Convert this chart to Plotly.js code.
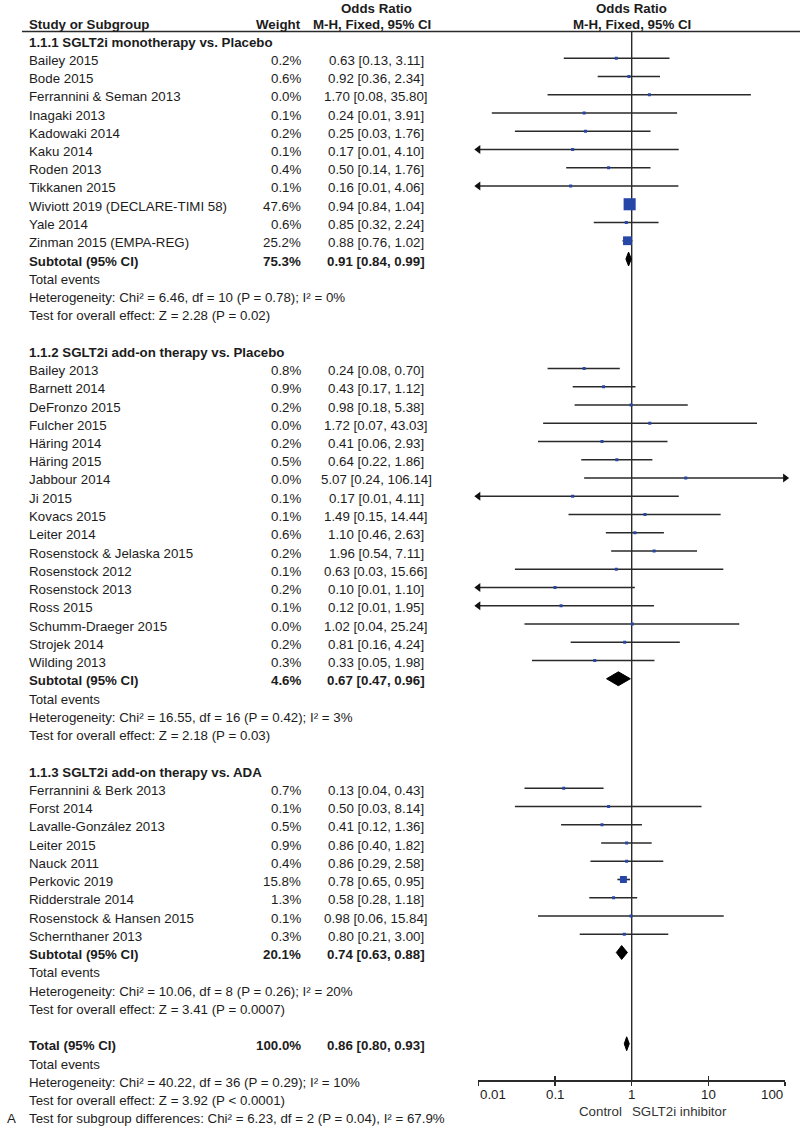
<!DOCTYPE html>
<html>
<head>
<meta charset="utf-8">
<script src="https://cdn.plot.ly/plotly-3.0.1.min.js"></script>
<style>body{margin:0;background:#fff}</style>
</head>
<body>
<div id="chart" style="width:800px;height:1128px"></div>
<script>
// ---- data ----
var subTitles = ["1.1.1 SGLT2i monotherapy vs. Placebo",
                 "1.1.2 SGLT2i add-on therapy vs. Placebo",
                 "1.1.3 SGLT2i add-on therapy vs. ADA"];

var names = ["Bailey 2015","Bode 2015","Ferrannini & Seman 2013","Inagaki 2013","Kadowaki 2014","Kaku 2014","Roden 2013","Tikkanen 2015","Wiviott 2019 (DECLARE-TIMI 58)","Yale 2014","Zinman 2015 (EMPA-REG)",
  "Bailey 2013","Barnett 2014","DeFronzo 2015","Fulcher 2015","Häring 2014","Häring 2015","Jabbour 2014","Ji 2015","Kovacs 2015","Leiter 2014","Rosenstock & Jelaska 2015","Rosenstock 2012","Rosenstock 2013","Ross 2015","Schumm-Draeger 2015","Strojek 2014","Wilding 2013",
  "Ferrannini & Berk 2013","Forst 2014","Lavalle-González 2013","Leiter 2015","Nauck 2011","Perkovic 2019","Ridderstrale 2014","Rosenstock & Hansen 2015","Schernthaner 2013"];
var group = [0,0,0,0,0,0,0,0,0,0,0,
  1,1,1,1,1,1,1,1,1,1,1,1,1,1,1,1,1,
  2,2,2,2,2,2,2,2,2];
var weight = [0.2,0.6,0.0,0.1,0.2,0.1,0.4,0.1,47.6,0.6,25.2,
  0.8,0.9,0.2,0.0,0.2,0.5,0.0,0.1,0.1,0.6,0.2,0.1,0.2,0.1,0.0,0.2,0.3,
  0.7,0.1,0.5,0.9,0.4,15.8,1.3,0.1,0.3];
var orVal = [0.63,0.92,1.70,0.24,0.25,0.17,0.50,0.16,0.94,0.85,0.88,
  0.24,0.43,0.98,1.72,0.41,0.64,5.07,0.17,1.49,1.10,1.96,0.63,0.10,0.12,1.02,0.81,0.33,
  0.13,0.50,0.41,0.86,0.86,0.78,0.58,0.98,0.80];
// lower limits as drawn (the ones shown as 0.01 with an arrow fall below 0.01)
var ciLow = [0.13,0.36,0.08,0.015,0.03,0.007,0.14,0.007,0.84,0.32,0.76,
  0.08,0.17,0.18,0.07,0.06,0.22,0.24,0.007,0.15,0.46,0.54,0.03,0.007,0.007,0.04,0.16,0.05,
  0.04,0.03,0.12,0.40,0.29,0.65,0.28,0.06,0.21];
var ciHigh = [3.11,2.34,35.80,3.91,1.76,4.10,1.76,4.06,1.04,2.24,1.02,
  0.70,1.12,5.38,43.03,2.93,1.86,106.14,4.11,14.44,2.63,7.11,15.66,1.10,1.95,25.24,4.24,1.98,
  0.43,8.14,1.36,1.82,2.58,0.95,1.18,15.84,3.00];
var ciLabels = ["0.63 [0.13, 3.11]","0.92 [0.36, 2.34]","1.70 [0.08, 35.80]","0.24 [0.01, 3.91]","0.25 [0.03, 1.76]","0.17 [0.01, 4.10]","0.50 [0.14, 1.76]","0.16 [0.01, 4.06]","0.94 [0.84, 1.04]","0.85 [0.32, 2.24]","0.88 [0.76, 1.02]",
  "0.24 [0.08, 0.70]","0.43 [0.17, 1.12]","0.98 [0.18, 5.38]","1.72 [0.07, 43.03]","0.41 [0.06, 2.93]","0.64 [0.22, 1.86]","5.07 [0.24, 106.14]","0.17 [0.01, 4.11]","1.49 [0.15, 14.44]","1.10 [0.46, 2.63]","1.96 [0.54, 7.11]","0.63 [0.03, 15.66]","0.10 [0.01, 1.10]","0.12 [0.01, 1.95]","1.02 [0.04, 25.24]","0.81 [0.16, 4.24]","0.33 [0.05, 1.98]",
  "0.13 [0.04, 0.43]","0.50 [0.03, 8.14]","0.41 [0.12, 1.36]","0.86 [0.40, 1.82]","0.86 [0.29, 2.58]","0.78 [0.65, 0.95]","0.58 [0.28, 1.18]","0.98 [0.06, 15.84]","0.80 [0.21, 3.00]"];

var subWeight = [75.3, 4.6, 20.1];
var subOr = [0.91, 0.67, 0.74];
var subLow = [0.84, 0.47, 0.63];
var subHigh = [0.99, 0.96, 0.88];
var subHet = ["Heterogeneity: Chi² = 6.46, df = 10 (P = 0.78); I² = 0%",
              "Heterogeneity: Chi² = 16.55, df = 16 (P = 0.42); I² = 3%",
              "Heterogeneity: Chi² = 10.06, df = 8 (P = 0.26); I² = 20%"];
var subEffect = ["Test for overall effect: Z = 2.28 (P = 0.02)",
                 "Test for overall effect: Z = 2.18 (P = 0.03)",
                 "Test for overall effect: Z = 3.41 (P = 0.0007)"];

var totWeight = 100.0, totOr = 0.86, totLow = 0.80, totHigh = 0.93;
var totHet = "Heterogeneity: Chi² = 40.22, df = 36 (P = 0.29); I² = 10%";
var totEffect = "Test for overall effect: Z = 3.92 (P < 0.0001)";
var subDiff = "Test for subgroup differences: Chi² = 6.23, df = 2 (P = 0.04), I² = 67.9%";

var tickVals = [0.01, 0.1, 1, 10, 100];
var tickText = ["0.01", "0.1", "1", "10", "100"];
var favours = ["Control", "SGLT2i inhibitor"];

// ---- geometry ----
var W = 800, H = 1128;
var ROW0 = 40, ROWH = 18.25, AXIS_PX = 1080, TXT_DY = 2;
var X_NAME = 27, X_WEIGHT = 303, X_CI = 376;
var XMIN = 0.01, XMAX = 100;
var FS = 13.3;
var yTop = -ROW0 / ROWH, yBot = (AXIS_PX - ROW0) / ROWH;

function py(px) { return 1 - px / H; }
function rowPx(r) { return ROW0 + ROWH * r + TXT_DY; }
function fmt(v) { return v.toFixed(2); }

var txtColor = '#1c1c1c';
var annotations = [];
function txt(s, xpx, ypx, anchor, bold) {
  annotations.push({
    text: bold ? '<b>' + s + '</b>' : s,
    xref: 'paper', yref: 'paper', x: xpx / W, y: py(ypx),
    xanchor: anchor, yanchor: 'middle', showarrow: false,
    font: {color: txtColor, size: FS}
  });
}

// headers
txt('Odds Ratio', 376, 9, 'center', true);
txt('Odds Ratio', 631.7, 9, 'center', true);
txt('Study or Subgroup', X_NAME, 24, 'left', true);
txt('Weight', X_WEIGHT, 24, 'right', true);
txt('M-H, Fixed, 95% CI', 372, 24, 'center', true);
txt('M-H, Fixed, 95% CI', 631.7, 24, 'center', true);

// assign rows
var studyRow = [], subRow = [];
var r = 0;
for (var g = 0; g < subTitles.length; g++) {
  txt(subTitles[g], X_NAME, rowPx(r), 'left', true);
  r++;
  for (var i = 0; i < names.length; i++) {
    if (group[i] !== g) continue;
    studyRow[i] = r;
    txt(names[i], X_NAME, rowPx(r), 'left', false);
    txt(weight[i].toFixed(1) + '%', X_WEIGHT, rowPx(r), 'right', false);
    txt(ciLabels[i], X_CI, rowPx(r), 'center', false);
    r++;
  }
  subRow[g] = r;
  txt('Subtotal (95% CI)', X_NAME, rowPx(r), 'left', true);
  txt(subWeight[g].toFixed(1) + '%', X_WEIGHT, rowPx(r), 'right', true);
  txt(fmt(subOr[g]) + ' [' + fmt(subLow[g]) + ', ' + fmt(subHigh[g]) + ']', X_CI, rowPx(r), 'center', true);
  r++;
  txt('Total events', X_NAME, rowPx(r), 'left', false); r++;
  txt(subHet[g], X_NAME, rowPx(r), 'left', false); r++;
  txt(subEffect[g], X_NAME, rowPx(r), 'left', false); r++;
  r++; // blank
}
var totRow = r;
txt('Total (95% CI)', X_NAME, rowPx(r), 'left', true);
txt(totWeight.toFixed(1) + '%', X_WEIGHT, rowPx(r), 'right', true);
txt(fmt(totOr) + ' [' + fmt(totLow) + ', ' + fmt(totHigh) + ']', X_CI, rowPx(r), 'center', true);
r++;
txt('Total events', X_NAME, rowPx(r), 'left', false); r++;
txt(totHet, X_NAME, rowPx(r), 'left', false); r++;
txt(totEffect, X_NAME, rowPx(r), 'left', false); r++;
txt(subDiff, X_NAME, rowPx(r), 'left', false);
txt('A', 5, rowPx(r), 'left', false);

// axis tick labels and favours labels
for (var k = 0; k < tickVals.length; k++) {
  var anc = k === 0 ? 'left' : (k === tickVals.length - 1 ? 'right' : 'center');
  annotations.push({text: tickText[k], xref: 'x', yref: 'paper', x: Math.log10(tickVals[k]), y: py(1094),
    xanchor: anc, yanchor: 'middle', showarrow: false, font: {color: txtColor, size: FS}});
}
annotations.push({text: favours[0], xref: 'x', yref: 'paper', x: 0, y: py(1111), xanchor: 'right', xshift: -8,
  yanchor: 'middle', showarrow: false, font: {color: '#333', size: FS}});
annotations.push({text: favours[1], xref: 'x', yref: 'paper', x: 0, y: py(1111), xanchor: 'left', xshift: -2,
  yanchor: 'middle', showarrow: false, font: {color: '#333', size: FS}});

// ---- traces ----
var lineColor = '#2a2a2a', boxColor = '#2646a8';
var lx = [], ly = [], bx = [], by = [], bs = [];
var leftX = [], leftY = [], rightX = [], rightY = [];
for (var i = 0; i < names.length; i++) {
  var y = studyRow[i];
  lx.push(Math.max(ciLow[i], XMIN), Math.min(ciHigh[i], XMAX), null);
  ly.push(y, y, null);
  bx.push(orVal[i]); by.push(y);
  bs.push(Math.max(3, 1.75 * Math.sqrt(weight[i])));
  if (ciLow[i] < XMIN) { leftX.push(XMIN); leftY.push(y); }
  if (ciHigh[i] > XMAX) { rightX.push(XMAX); rightY.push(y); }
}

var traces = [];
// null line at OR = 1
traces.push({x: [1, 1], y: [-0.47, yBot], mode: 'lines', line: {color: lineColor, width: 1.4}, hoverinfo: 'skip'});
traces.push({x: lx, y: ly, mode: 'lines', line: {color: lineColor, width: 1.6}, hoverinfo: 'skip'});
traces.push({x: bx, y: by, mode: 'markers',
  marker: {symbol: 'square', size: bs, color: boxColor, opacity: 1, line: {width: 0}}, hoverinfo: 'skip'});
traces.push({x: leftX, y: leftY, mode: 'markers', cliponaxis: false,
  marker: {symbol: 'triangle-left', size: 8, color: '#111', opacity: 1}, hoverinfo: 'skip'});
traces.push({x: rightX, y: rightY, mode: 'markers', cliponaxis: false,
  marker: {symbol: 'triangle-right', size: 8, color: '#111', opacity: 1}, hoverinfo: 'skip'});

// diamonds (subtotals and total), drawn on the duplicate axis x2
var dOr = subOr.concat([totOr]), dLo = subLow.concat([totLow]), dHi = subHigh.concat([totHigh]);
var dRow = subRow.concat([totRow]);
var hh = 0.38;
for (var d = 0; d < dOr.length; d++) {
  traces.push({
    x: [dLo[d], dOr[d], dHi[d], dOr[d], dLo[d]],
    y: [dRow[d], dRow[d] - hh, dRow[d], dRow[d] + hh, dRow[d]],
    xaxis: 'x2', mode: 'lines', fill: 'toself', fillcolor: '#000',
    line: {color: '#000', width: 1}, hoverinfo: 'skip'
  });
}

var dom = [478.3 / W, 785.1 / W];
var layout = {
  width: W, height: H,
  margin: {l: 0, r: 0, t: 0, b: 0},
  paper_bgcolor: '#fff', plot_bgcolor: 'rgba(0,0,0,0)',
  showlegend: false,
  font: {family: 'Liberation Sans, Arial, sans-serif', size: FS, color: txtColor},
  xaxis: {type: 'log', range: [-2, 2], domain: dom, anchor: 'y',
    showgrid: false, zeroline: false, showline: true, linecolor: lineColor, linewidth: 1.5,
    ticks: 'outside', ticklen: 4, tickwidth: 1.5, tickcolor: lineColor,
    tickvals: tickVals, showticklabels: false, fixedrange: true},
  xaxis2: {type: 'log', range: [-2, 2], domain: dom, anchor: 'y', overlaying: 'x',
    showgrid: false, zeroline: false, showline: false,
    ticks: 'inside', ticklen: 4, tickwidth: 1.5, tickcolor: lineColor,
    tickvals: tickVals, showticklabels: false, fixedrange: true},
  yaxis: {range: [yBot, yTop], domain: [1 - AXIS_PX / H, 1], visible: false,
    showgrid: false, zeroline: false, fixedrange: true},
  shapes: [
    {type: 'line', xref: 'paper', yref: 'paper', x0: 22 / W, x1: 1, y0: py(31.5), y1: py(31.5),
     line: {color: lineColor, width: 1.5}}
  ],
  annotations: annotations
};

Plotly.newPlot('chart', traces, layout, {staticPlot: true, displayModeBar: false});
</script>
</body>
</html>
